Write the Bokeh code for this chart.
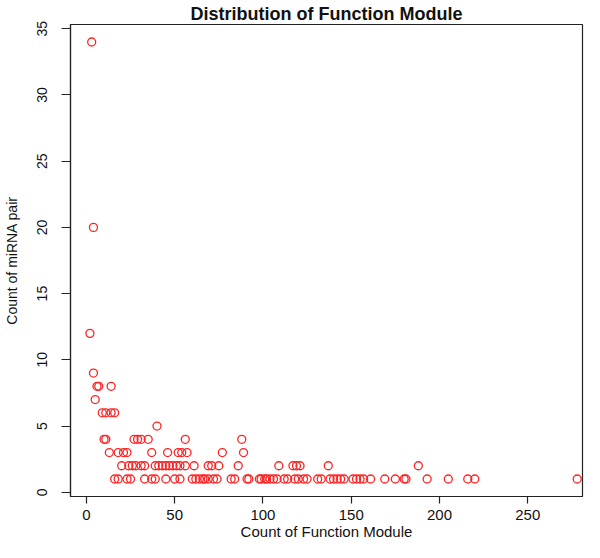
from bokeh.plotting import figure
from bokeh.models import FixedTicker, ColumnDataSource, Range1d
from bokeh.embed import file_html
from bokeh.resources import INLINE

# Count of Function Module (x) for each Count of miRNA pair level (y)
modules_y1 = [16, 18, 23, 25, 33, 37, 39, 45, 50, 53, 60, 62, 64, 66, 67, 69, 72, 74,
              82, 84, 91, 92, 98, 99, 101, 102, 104, 106, 108, 112, 114, 118, 120,
              123, 125, 131, 133, 138, 140, 142, 144, 146, 151, 153, 155, 157, 161,
              169, 175, 180, 181, 193, 205, 216, 220, 278]
modules_y2 = [20, 24, 26, 28, 31, 33, 39, 41, 43, 45, 47, 49, 51, 53, 56, 61, 69, 71,
              75, 86, 109, 117, 119, 121, 137, 188]
modules_y3 = [13, 18, 21, 23, 37, 46, 52, 54, 57, 77, 89]
modules_y4 = [10, 11, 27, 29, 31, 35, 56, 88]
modules_y5 = [40]
modules_y6 = [9, 11, 14, 16]
modules_y7 = [5]
modules_y8 = [6, 7, 14]
modules_y9 = [4]
modules_y12 = [2]
modules_y20 = [4]
modules_y34 = [3]

levels = [1, 2, 3, 4, 5, 6, 7, 8, 9, 12, 20, 34]
groups = [modules_y1, modules_y2, modules_y3, modules_y4, modules_y5, modules_y6,
          modules_y7, modules_y8, modules_y9, modules_y12, modules_y20, modules_y34]

x_ticks = [0, 50, 100, 150, 200, 250]
y_ticks = [0, 5, 10, 15, 20, 25, 30, 35]

xs, ys = [], []
for lvl, g in zip(levels, groups):
    xs.extend(g)
    ys.extend([lvl] * len(g))

src = ColumnDataSource(data=dict(x=xs, y=ys))

FONT = "Liberation Sans"

p = figure(width=584, height=542, output_backend="svg", toolbar_location=None,
           x_range=Range1d(-9, 281), y_range=Range1d(-0.32, 35.32),
           min_border_left=70, min_border_right=2, min_border_top=0,
           min_border_bottom=10,
           title="Distribution of Function Module")

p.title.align = "center"
p.title.text_font = FONT
p.title.text_font_size = "18px"
p.title.text_font_style = "bold"
p.title.text_color = "#111111"
p.title.standoff = 2

p.scatter("x", "y", source=src, marker="circle", size=8, fill_color=None,
          line_color="#ff2222", line_width=1.3)

p.xgrid.visible = False
p.ygrid.visible = False
p.outline_line_color = "#222222"
p.outline_line_width = 1.2
p.background_fill_color = "white"
p.border_fill_color = "white"

p.xaxis.ticker = FixedTicker(ticks=x_ticks)
p.yaxis.ticker = FixedTicker(ticks=y_ticks)
p.xaxis.axis_label = "Count of Function Module"
p.yaxis.axis_label = "Count of miRNA pair"
p.yaxis.major_label_orientation = "vertical"

for ax, fs in ((p.xaxis, "15px"), (p.yaxis, "14px")):
    ax.axis_line_color = "#222222"
    ax.axis_line_width = 1.2
    ax.major_tick_line_color = "#222222"
    ax.major_tick_line_width = 1.2
    ax.major_tick_in = 0
    ax.minor_tick_line_color = None
    ax.major_label_text_font = FONT
    ax.major_label_text_font_size = fs
    ax.major_label_text_color = "#111111"
    ax.axis_label_text_font = FONT
    ax.axis_label_text_font_size = fs
    ax.axis_label_text_font_style = "normal"
    ax.axis_label_text_color = "#111111"

p.xaxis.major_tick_out = 7
p.xaxis.major_label_standoff = 6
p.xaxis.axis_label_standoff = 0
p.yaxis.major_tick_out = 9
p.yaxis.major_label_standoff = 14
p.yaxis.axis_label_standoff = 15

open("out.html", "w").write(file_html(p, INLINE))
